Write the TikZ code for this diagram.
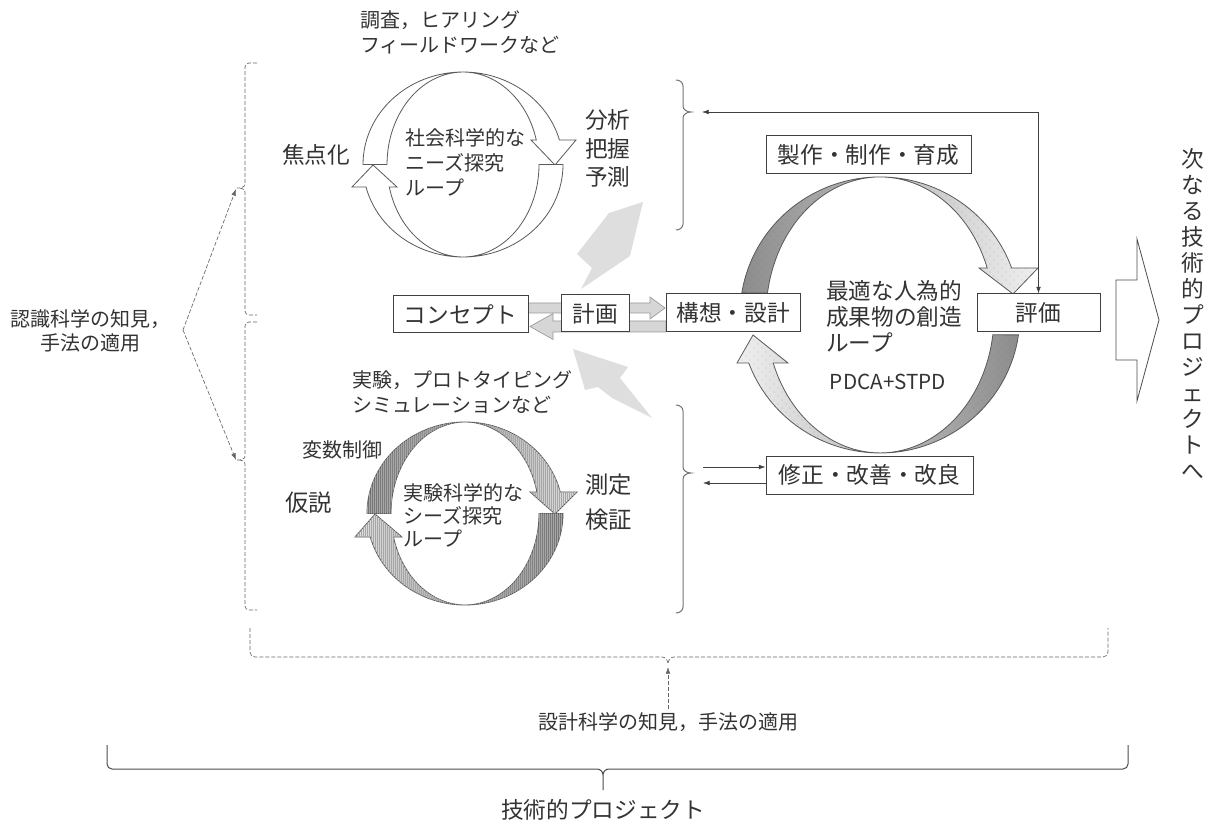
\documentclass[tikz,border=0pt]{standalone}
\usepackage{fontspec}
\setmainfont{Noto Sans CJK JP}
\usetikzlibrary{arrows.meta,patterns.meta}
\tikzdeclarepattern{
  name=sdots,
  type=uncolored,
  bottom left={(-.1pt,-.1pt)},
  top right={(6.1pt,6.1pt)},
  tile size={(6pt,6pt)},
  code={\fill (1.5pt,1.5pt) circle[radius=0.35pt]; \fill (4.5pt,4.5pt) circle[radius=0.35pt];}
}
\tikzdeclarepattern{
  name=vhatch,
  type=uncolored,
  bottom left={(-.1pt,-.1pt)},
  top right={(1.6pt,1.6pt)},
  tile size={(1.5pt,1.5pt)},
  code={\draw[line width=0.25pt] (0.75pt,-0.1pt) -- (0.75pt,1.6pt);}
}
\begin{document}
\begin{tikzpicture}[x=0.75pt,y=0.75pt,
  every node/.style={text=black!80},
  box/.style={draw=black!75, fill=white, line width=0.75pt, inner sep=0pt,
    font=\fontsize{17}{20}\selectfont},
  lp/.style={draw=black!65, line width=0.6pt},
  barr/.style={draw=black!40, fill=black!16, line width=0.5pt},
  gsh/.style={fill=black!13, draw=none},
  dbr/.style={draw=black!60, dash pattern=on 3pt off 1.5pt, line width=0.5pt},
  darr/.style={dbr, -{Latex[length=5pt,width=3.5pt]}},
  sbr/.style={draw=black!55, line width=0.75pt},
  arr/.style={draw=black!75, line width=0.5pt, -{Latex[length=5pt,width=3.5pt]}},
  lbl/.style={inner sep=0pt, align=left},
  fa/.style={font=\fontsize{15}{18.75}\selectfont},
  fb/.style={font=\fontsize{17}{21.4}\selectfont}
]
\useasboundingbox (0,0) rectangle (1217,-830);

% ---------- social science loop ----------
\path[lp, fill=white] (363,-164.5) arc[start angle=180,end angle=15.4,x radius=100,y radius=92.5]
  -- (576,-140) -- (555,-165) -- (531,-140) -- (536.3,-140)
  arc[start angle=15.4,end angle=180,x radius=76,y radius=92.5] -- cycle;
\path[lp, fill=white] (563,-164.5) arc[start angle=0,end angle=-165.9,x radius=100,y radius=92.5]
  -- (352,-187) -- (373,-165) -- (397,-187) -- (389.3,-187)
  arc[start angle=-165.9,end angle=0,x radius=76,y radius=92.5] -- cycle;

\node[lbl, fa, anchor=west] (chosa) at (360,-32.5) {調査，ヒアリング\\フィールドワークなど};
\node[lbl, font=\fontsize{17}{20}\selectfont, anchor=west] (shoten) at (282,-155) {焦点化};
\node[lbl, fa, anchor=west] (shakai) at (405,-162) {社会科学的な\\ニーズ探究\\ループ};
\node[lbl, fb, anchor=west] (bunseki) at (585,-148.5) {分析\\把握\\予測};

% ---------- experimental loop ----------
\path[lp, left color=black!55, right color=black!12,
  postaction={pattern=vhatch, pattern color=black!35}]
  (367,-513.5) arc[start angle=180,end angle=13.6,x radius=98,y radius=91.5]
  -- (577,-492) -- (555,-514) -- (530,-492) -- (536.9,-492)
  arc[start angle=13.6,end angle=180,x radius=74,y radius=91.5] -- cycle;
\path[lp, left color=black!12, right color=black!55,
  postaction={pattern=vhatch, pattern color=black!35}]
  (563,-513.5) arc[start angle=0,end angle=-165.1,x radius=98,y radius=91.5]
  -- (355,-537) -- (375,-514) -- (402,-537) -- (393.5,-537)
  arc[start angle=-165.1,end angle=0,x radius=74,y radius=91.5] -- cycle;

\node[lbl, fa, anchor=west] (jikken) at (352,-392.5) {実験，プロトタイピング\\シミュレーションなど};
\node[lbl, fa, anchor=west] (hensu) at (302,-450) {変数制御};
\node[lbl, font=\fontsize{17.5}{20}\selectfont, anchor=west] (kasetsu) at (285,-503) {仮説};
\node[lbl, font=\fontsize{15}{17.25}\selectfont, anchor=west] (jikkenloop) at (403,-515) {実験科学的な\\シーズ探究\\ループ};
\node[lbl, font=\fontsize{17.5}{26.25}\selectfont, anchor=west] (sokutei) at (585,-502.5) {測定\\検証};

% ---------- gray pointer shapes ----------
\path[gsh] (609,-213) -- (643,-202) -- (630,-256) -- (581,-289) -- (592,-268) -- (577,-254) -- cycle;
\path[gsh] (573,-349) -- (628,-367) -- (620,-378) -- (652,-418) -- (612,-398) -- (598,-387) -- (585,-390) -- cycle;

% ---------- PDCA loop ----------
\path[lp, left color=black!45, right color=black!6,
  postaction={pattern=sdots, pattern color=black!55}]
  (741.8,-292.9) arc[start angle=170.8,end angle=19.9,x radius=140,y radius=138]
  -- (1038,-268) -- (1013,-294) -- (979,-268) -- (987.2,-268)
  arc[start angle=19.9,end angle=170.8,x radius=114,y radius=138] -- cycle;
\path[lp, left color=black!6, right color=black!45,
  postaction={pattern=sdots, pattern color=black!55}]
  (1018.5,-334.9) arc[start angle=-8.3,end angle=-159.6,x radius=140,y radius=138]
  -- (737,-363) -- (753,-335) -- (788,-363) -- (773.2,-363)
  arc[start angle=-159.6,end angle=-8.3,x radius=114,y radius=138] -- cycle;

\node[lbl, font=\fontsize{17}{19.5}\selectfont, anchor=west] (saiteki) at (826,-316) {最適な人為的\\成果物の創造\\ループ};
\node[inner sep=0pt, font=\fontsize{15.5}{18}\selectfont] (pdca) at (888,-382) {PDCA+STPD};

% ---------- block arrows between boxes ----------
\path[barr] (528,-303) -- (650,-303) -- (650,-297) -- (665,-308) -- (650,-319) -- (650,-313) -- (528,-313) -- cycle;
\path[barr] (666,-321) -- (553,-321) -- (553,-313.5) -- (530,-326.5) -- (553,-339.5) -- (553,-332) -- (666,-332) -- cycle;

% ---------- boxes ----------
\node[box, minimum width=101.25pt, minimum height=27.75pt] (concept) at (460.5,-314.5) {コンセプト};
\node[box, minimum width=51pt, minimum height=27.75pt] (keikaku) at (595,-313.5) {計画};
\node[box, minimum width=100.5pt, minimum height=28.5pt] (kouso) at (733,-313) {構想・設計};
\node[box, minimum width=153.75pt, minimum height=28.5pt] (seisaku) at (868.5,-155) {製作・制作・育成};
\node[box, minimum width=92.25pt, minimum height=28.5pt] (hyoka) at (1038.5,-313) {評価};
\node[box, minimum width=155.25pt, minimum height=28.5pt] (shusei) at (869.5,-475) {修正・改善・改良};

% ---------- right solid braces ----------
\path[sbr] (676,-80) to[out=0,in=90] (683,-86) -- (683,-106) to[out=-90,in=180] (691,-112)
  to[out=180,in=90] (683,-118) -- (683,-224) to[out=-90,in=0] (676,-230);
\path[sbr] (676,-405) to[out=0,in=90] (683,-411) -- (683,-467) to[out=-90,in=180] (691,-473)
  to[out=180,in=90] (683,-479) -- (683,-607) to[out=-90,in=0] (676,-613);

% feedback from evaluation
\coordinate (fbL) at (702,-112);
\draw[draw=black!75, line width=0.5pt, {Latex[length=5pt,width=3.5pt]}-{Latex[length=5pt,width=3.5pt]}]
  (fbL) -| (hyoka.north);
% arrows to/from correction box
\coordinate (sa) at (703,-467);
\coordinate (sb) at (703,-483);
\draw[arr] (sa) -- (sa -| shusei.west);
\draw[arr] (sb -| shusei.west) -- (sb);

% ---------- next project arrow ----------
\path[draw=black!70, line width=0.6pt, fill=white] (1116,-280) -- (1137,-280) -- (1137,-239)
  -- (1159,-320) -- (1137,-401) -- (1137,-360) -- (1116,-360) -- cycle;
\node[inner sep=0pt, align=center, font=\fontsize{17}{19.5}\selectfont] (next) at (1193,-314)
  {次\\な\\る\\技\\術\\的\\プ\\ロ\\ジ\\ェ\\ク\\ト\\へ};

% ---------- left dashed braces ----------
\path[dbr] (257,-63) -- (249,-63) to[out=180,in=90] (245,-67) -- (245,-184)
  to[out=-90,in=0] (237,-188) to[out=0,in=90] (245,-192) -- (245,-311)
  to[out=-90,in=180] (249,-315) -- (257,-315);
\path[dbr] (257,-322) -- (249,-322) to[out=180,in=90] (245,-326) -- (245,-456)
  to[out=-90,in=0] (237,-460) to[out=0,in=90] (245,-464) -- (245,-606)
  to[out=-90,in=180] (249,-610) -- (257,-610);
\coordinate (upTip) at (236,-189);
\coordinate (loTip) at (236,-460);
\coordinate (ninV) at (183,-330);
\draw[darr] (ninV) -- (upTip);
\draw[darr] (ninV) -- (loTip);
\node[inner sep=0pt, align=center, font=\fontsize{15}{18}\selectfont] (ninshiki) at (90,-331)
  {認識科学の知見，\\手法の適用};

% ---------- bottom dashed brace ----------
\path[dbr] (250,-628) -- (250,-652) to[out=-90,in=180] (255,-657) -- (662,-657)
  to[out=0,in=90] (668,-664) to[out=90,in=180] (674,-657) -- (1103,-657)
  to[out=0,in=-90] (1108,-652) -- (1108,-628);
\node[inner sep=0pt, font=\fontsize{15}{18}\selectfont] (sekkei) at (668,-722) {設計科学の知見，手法の適用};
\coordinate (sekTip) at (668,-667);
\draw[darr] (sekkei.north) ++(0,3) coordinate (sekB) (sekB) -- (sekTip);

% ---------- bottom solid brace ----------
\path[draw=black!70, line width=0.75pt] (107,-745) -- (107,-764) to[out=-90,in=180] (112,-769)
  -- (597,-769) to[out=0,in=90] (603,-775) -- (603,-790) -- (603,-775)
  to[out=90,in=180] (609,-769) -- (1123,-769) to[out=0,in=-90] (1128,-764) -- (1128,-745);
\node[inner sep=0pt, font=\fontsize{17}{20}\selectfont] (gijutsu) at (603,-810) {技術的プロジェクト};
\end{tikzpicture}
\end{document}
